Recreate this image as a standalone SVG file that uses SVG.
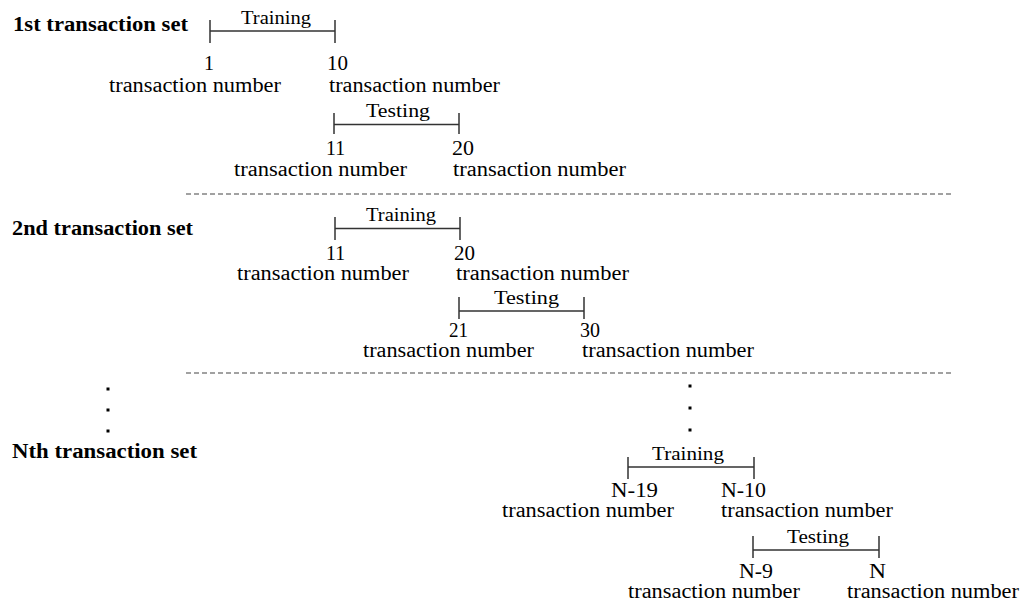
<svg xmlns="http://www.w3.org/2000/svg" width="1022" height="605" viewBox="0 0 1022 605">
<style>
text{font-family:"Liberation Serif","Times New Roman",serif;fill:#000}
.lbl{font-weight:bold;font-size:20px}
.tn{font-size:20px}
.num{font-size:20px}
.ph{font-size:19px}
.br{stroke:#333;stroke-width:1.5;fill:none}
.sep{stroke:#444;stroke-width:1.2;stroke-dasharray:5 3;fill:none}
.dot{fill:#000}
</style>
<rect width="1022" height="605" fill="#fff"/>

<g id="connectors">
  <path id="br-s1-train" class="br" d="M210 20V43M210 31H335M335 20V43"/>
  <path id="br-s1-test" class="br" d="M334 113V134M334 124.5H459M459 113V134"/>
  <path id="br-s2-train" class="br" d="M335 217V240M335 228.5H460M460 217V240"/>
  <path id="br-s2-test" class="br" d="M459 297V319M459 311H584M584 297V319"/>
  <path id="br-sN-train" class="br" d="M628 457V479M628 467H754M754 457V479"/>
  <path id="br-sN-test" class="br" d="M753 536V558M753 550H879M879 536V558"/>
</g>

<g id="separators">
  <line class="sep" x1="186" y1="194" x2="954" y2="194"/>
  <line class="sep" x1="186" y1="373" x2="954" y2="373"/>
</g>

<g id="ellipsis">
  <rect class="dot" x="106.5" y="387.5" width="3" height="3"/>
  <rect class="dot" x="106.5" y="408.5" width="3" height="3"/>
  <rect class="dot" x="106.5" y="429.5" width="3" height="3"/>
  <rect class="dot" x="688.5" y="384.5" width="3" height="3"/>
  <rect class="dot" x="688.5" y="406.5" width="3" height="3"/>
  <rect class="dot" x="688.5" y="428.5" width="3" height="3"/>
</g>

<g id="set1">
  <text class="lbl" x="13" y="31" textLength="175" lengthAdjust="spacingAndGlyphs">1st transaction set</text>
  <g id="set1-training">
    <text class="ph" x="241" y="24" textLength="70" lengthAdjust="spacingAndGlyphs">Training</text>
    <text class="num" x="204" y="70">1</text>
    <text class="num" x="327" y="70" textLength="21" lengthAdjust="spacingAndGlyphs">10</text>
    <text class="tn" x="109" y="92" textLength="172" lengthAdjust="spacingAndGlyphs">transaction number</text>
    <text class="tn" x="329" y="92" textLength="171" lengthAdjust="spacingAndGlyphs">transaction number</text>
  </g>
  <g id="set1-testing">
    <text class="ph" x="366" y="117" textLength="64" lengthAdjust="spacingAndGlyphs">Testing</text>
    <text class="num" x="326" y="155" textLength="19" lengthAdjust="spacingAndGlyphs">11</text>
    <text class="num" x="452" y="155" textLength="22" lengthAdjust="spacingAndGlyphs">20</text>
    <text class="tn" x="234" y="176" textLength="173" lengthAdjust="spacingAndGlyphs">transaction number</text>
    <text class="tn" x="453" y="176" textLength="173" lengthAdjust="spacingAndGlyphs">transaction number</text>
  </g>
</g>

<g id="set2">
  <text class="lbl" x="12" y="235" textLength="181" lengthAdjust="spacingAndGlyphs">2nd transaction set</text>
  <g id="set2-training">
    <text class="ph" x="366" y="221" textLength="70" lengthAdjust="spacingAndGlyphs">Training</text>
    <text class="num" x="326" y="260" textLength="19" lengthAdjust="spacingAndGlyphs">11</text>
    <text class="num" x="454" y="260" textLength="21" lengthAdjust="spacingAndGlyphs">20</text>
    <text class="tn" x="237" y="280" textLength="172" lengthAdjust="spacingAndGlyphs">transaction number</text>
    <text class="tn" x="456" y="280" textLength="173" lengthAdjust="spacingAndGlyphs">transaction number</text>
  </g>
  <g id="set2-testing">
    <text class="ph" x="494" y="304" textLength="65" lengthAdjust="spacingAndGlyphs">Testing</text>
    <text class="num" x="449" y="337" textLength="19" lengthAdjust="spacingAndGlyphs">21</text>
    <text class="num" x="580" y="337" textLength="20" lengthAdjust="spacingAndGlyphs">30</text>
    <text class="tn" x="363" y="357" textLength="171" lengthAdjust="spacingAndGlyphs">transaction number</text>
    <text class="tn" x="582" y="357" textLength="172" lengthAdjust="spacingAndGlyphs">transaction number</text>
  </g>
</g>

<g id="setN">
  <text class="lbl" x="12" y="458" textLength="185" lengthAdjust="spacingAndGlyphs">Nth transaction set</text>
  <g id="setN-training">
    <text class="ph" x="652" y="460" textLength="72" lengthAdjust="spacingAndGlyphs">Training</text>
    <text class="num" x="611" y="497" textLength="47" lengthAdjust="spacingAndGlyphs">N-19</text>
    <text class="num" x="721" y="497" textLength="45" lengthAdjust="spacingAndGlyphs">N-10</text>
    <text class="tn" x="502" y="517" textLength="172" lengthAdjust="spacingAndGlyphs">transaction number</text>
    <text class="tn" x="721" y="517" textLength="172" lengthAdjust="spacingAndGlyphs">transaction number</text>
  </g>
  <g id="setN-testing">
    <text class="ph" x="787" y="543" textLength="62" lengthAdjust="spacingAndGlyphs">Testing</text>
    <text class="num" x="739" y="578" textLength="34" lengthAdjust="spacingAndGlyphs">N-9</text>
    <text class="num" x="869" y="578" textLength="17" lengthAdjust="spacingAndGlyphs">N</text>
    <text class="tn" x="628" y="598" textLength="172" lengthAdjust="spacingAndGlyphs">transaction number</text>
    <text class="tn" x="847" y="598" textLength="172" lengthAdjust="spacingAndGlyphs">transaction number</text>
  </g>
</g>
</svg>
